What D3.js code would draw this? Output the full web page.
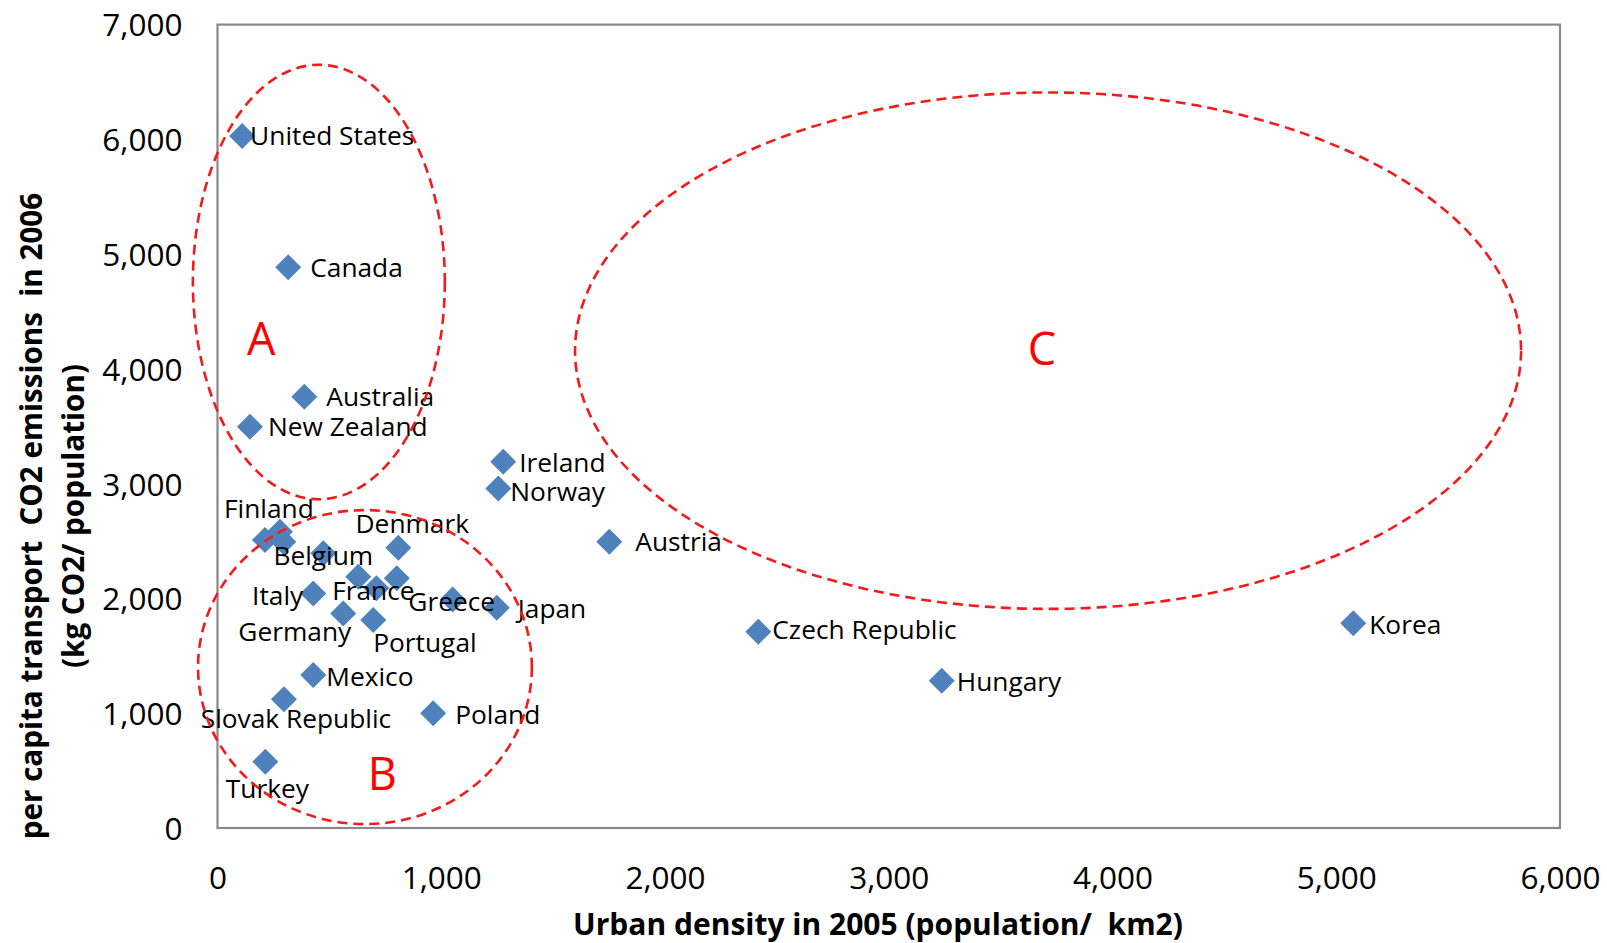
<!DOCTYPE html>
<html><head><meta charset="utf-8">
<script src="https://cdn.jsdelivr.net/npm/d3@7"></script>
<style>body{margin:0;background:#fff}</style>
</head><body><svg id="c" width="1607" height="943"></svg>
<script>
// ---- data ----
const countries = ["United States","Canada","Australia","New Zealand","Ireland","Norway","Austria",
  "Czech Republic","Korea","Hungary","Finland","","","Belgium","Denmark","","France","",
  "Italy","Germany","Portugal","Greece","Japan","Mexico","Slovak Republic","Poland","Turkey"];
const density = [110,316,388,145,1277,1255,1751,2417,5076,3237,212,279,294,473,808,629,710,801,
  428,562,696,1051,1248,428,297,964,214];
const emissions = [6030,4885,3757,3496,3191,2959,2494,1710,1783,1283,2509,2581,2494,2393,2442,2189,2088,2175,
  2044,1870,1812,1992,1919,1333,1121,999,578];
const xTicks = [0,1000,2000,3000,4000,5000,6000];
const yTicks = [0,1000,2000,3000,4000,5000,6000,7000];
// annotation groups (data units)
const groupNames = ["A","B","C"];
const groupCx = [453,659,3712];
const groupCy = [4757,1402,4159];
const groupRx = [563,746,2114];
const groupRy = [1893,1368,2250];
const groupLabelX = [196,737,3685];
const groupLabelY = [4260,470,4177];

// ---- layout ----
const labelPlace = {
  "United States":["start",8,0], "Canada":["start",22,0], "Australia":["start",22,0],
  "New Zealand":["start",18,0], "Ireland":["start",16,1], "Norway":["start",12,3],
  "Austria":["start",26,0], "Czech Republic":["start",14,-2], "Korea":["start",16,1],
  "Hungary":["start",15,1], "Poland":["start",22,1], "Mexico":["start",13,2],
  "Japan":["start",21,1], "Slovak Republic":["middle",12,19], "Turkey":["middle",2,27],
  "Finland":["middle",4,-32], "Belgium":["middle",0,2], "Denmark":["middle",14,-24],
  "Italy":["end",-10,2], "France":["middle",-3,2], "Germany":["end",8,18],
  "Portugal":["start",0,22], "Greece":["middle",-1,2]
};
const FONT = "'Open Sans', 'Noto Sans', sans-serif";
const svg = d3.select("#c");
const L = 217.5, R = 1560, T = 24.6, B = 828;
const x = d3.scaleLinear().domain([0,6000]).range([L,R]);
const y = d3.scaleLinear().domain([0,7000]).range([B,T]);

// plot border
svg.append("rect").attr("x",L).attr("y",T).attr("width",R-L).attr("height",B-T)
  .attr("fill","none").attr("stroke","#898989").attr("stroke-width",2.2);

// axes
const fmt = d3.format(",");
const gx = svg.append("g").attr("transform",`translate(0,${B})`)
  .call(d3.axisBottom(x).tickValues(xTicks).tickSize(0).tickFormat(fmt));
gx.select(".domain").remove();
gx.selectAll("text").attr("y",50).attr("dy","0.36em")
  .attr("font-family",FONT).attr("font-size",31.5).attr("fill","#000");
const gy = svg.append("g").attr("transform",`translate(${L},0)`)
  .call(d3.axisLeft(y).tickValues(yTicks).tickSize(0).tickPadding(35).tickFormat(fmt));
gy.select(".domain").remove();
gy.selectAll("text").attr("dy","0.36em")
  .attr("font-family",FONT).attr("font-size",31.5).attr("fill","#000");

// axis titles
svg.append("text").attr("x",878).attr("y",924).attr("dy","0.36em").attr("text-anchor","middle")
  .attr("font-family",FONT).attr("font-weight","bold").attr("font-size",30)
  .style("white-space","pre")
  .text("Urban density in 2005 (population/  km2)");
const yt = svg.append("g").attr("transform","translate(0,516) rotate(-90)");
yt.append("text").attr("x",0).attr("y",31).attr("dy","0.36em").attr("text-anchor","middle")
  .attr("font-family",FONT).attr("font-weight","bold").attr("font-size",29.6)
  .style("white-space","pre").text("per capita transport  CO2 emissions  in 2006");
yt.append("text").attr("x",0).attr("y",73).attr("dy","0.36em").attr("text-anchor","middle")
  .attr("font-family",FONT).attr("font-weight","bold").attr("font-size",29.6)
  .style("white-space","pre").text("(kg CO2/ population)");

// points
const pts = countries.map((c,i)=>({name:c, dx:density[i], em:emissions[i]}));
const sym = d3.symbol().type(d3.symbolSquare).size(338);
svg.append("g").selectAll("path").data(pts).join("path")
  .attr("d",sym).attr("fill","#4f81bd")
  .attr("transform",d=>`translate(${x(d.dx)},${y(d.em)}) rotate(45)`);

// labels
svg.append("g").selectAll("text").data(pts.filter(d=>d.name)).join("text")
  .attr("x",d=>x(d.dx)+labelPlace[d.name][1])
  .attr("y",d=>y(d.em)+labelPlace[d.name][2])
  .attr("dy","0.36em")
  .attr("text-anchor",d=>labelPlace[d.name][0])
  .attr("font-family",FONT).attr("font-size",26.3).attr("fill","#000")
  .text(d=>d.name);

// group ellipses
const groups = groupNames.map((n,i)=>({n, cx:groupCx[i], cy:groupCy[i], rx:groupRx[i], ry:groupRy[i], lx:groupLabelX[i], ly:groupLabelY[i]}));
svg.append("g").selectAll("ellipse").data(groups).join("ellipse")
  .attr("cx",d=>x(d.cx)).attr("cy",d=>y(d.cy))
  .attr("rx",d=>x(d.rx)-x(0)).attr("ry",d=>y(0)-y(d.ry))
  .attr("fill","none").attr("stroke","#f21a1a").attr("stroke-width",2.6)
  .attr("stroke-dasharray","10,6");
svg.append("g").selectAll("text").data(groups).join("text")
  .attr("x",d=>x(d.lx)).attr("y",d=>y(d.ly)).attr("dy","0.36em")
  .attr("text-anchor","middle").attr("font-family",FONT).attr("font-size",45)
  .attr("fill","#ff0000").text(d=>d.n);
</script></body></html>
